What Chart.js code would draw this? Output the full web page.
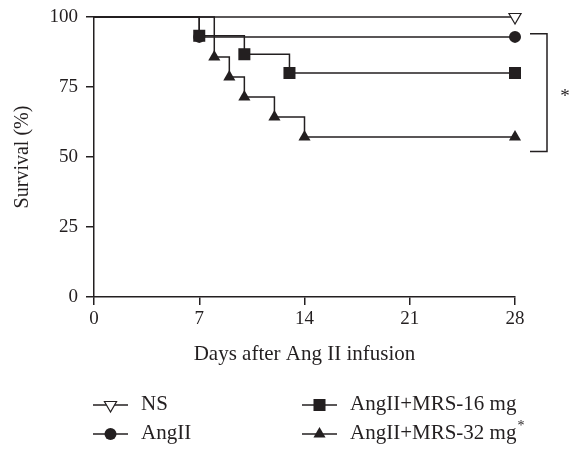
<!DOCTYPE html>
<html><head><meta charset="utf-8">
<script src="https://cdn.jsdelivr.net/npm/chart.js@4"></script>
<style>html,body{margin:0;padding:0;background:#fff}#wrap{width:581px;height:451px;position:relative}</style>
</head><body><div id="wrap"><canvas id="c" width="581" height="451"></canvas></div>
<script>
// ---- data ----
const seriesNames = ['NS', 'AngII', 'AngII+MRS-16 mg', 'AngII+MRS-32 mg'];
const nsDays = [0, 28];
const nsSurvival = [100, 100];
const angDays = [0, 7, 28];
const angSurvival = [100, 92.9, 92.9];
const mrs16Days = [0, 7, 10, 13, 28];
const mrs16Survival = [100, 93.3, 86.7, 80, 80];
const mrs32Days = [0, 8, 9, 10, 12, 14, 28];
const mrs32Survival = [100, 85.7, 78.6, 71.4, 64.3, 57.1, 57.1];
const xTicks = [0, 7, 14, 21, 28];
const yTicks = [0, 25, 50, 75, 100];
const bracketSpan = [94, 52];      // survival range spanned by the significance bracket
const bracketLabel = '*';

const INK = '#231f20';
const FONT = "'Liberation Serif', 'DejaVu Serif', serif";

function pts(xs, ys) { return xs.map((x, i) => ({ x: x, y: ys[i] })); }

const styles = [
  { pointStyle: 'triangle', rotation: 180, radius: 7, fill: '#ffffff', bw: 1.2 },
  { pointStyle: 'circle', rotation: 0, radius: 6, fill: INK, bw: 0 },
  { pointStyle: 'rect', rotation: 0, radius: 8.5, fill: INK, bw: 0 },
  { pointStyle: 'triangle', rotation: 0, radius: 7, fill: INK, bw: 0 }
];
const seriesData = [pts(nsDays, nsSurvival), pts(angDays, angSurvival), pts(mrs16Days, mrs16Survival), pts(mrs32Days, mrs32Survival)];

const datasets = seriesNames.map((name, i) => ({
  label: name,
  data: seriesData[i],
  stepped: true,
  borderColor: INK,
  borderWidth: 1.5,
  fill: false,
  clip: false,
  pointStyle: styles[i].pointStyle,
  pointRotation: styles[i].rotation,
  pointRadius: ctx => ctx.dataIndex === 0 ? 0 : styles[i].radius,
  pointHoverRadius: ctx => ctx.dataIndex === 0 ? 0 : styles[i].radius,
  pointBackgroundColor: styles[i].fill,
  pointBorderColor: INK,
  pointBorderWidth: styles[i].bw
}));

function drawShape(ctx, st, x, y) {
  ctx.save();
  ctx.fillStyle = st.fill;
  ctx.strokeStyle = INK;
  ctx.lineWidth = st.bw;
  Chart.helpers.drawPoint(ctx, { pointStyle: st.pointStyle, rotation: st.rotation, radius: st.radius, borderWidth: st.bw }, x, y);
  ctx.restore();
}

const extras = {
  id: 'extras',
  afterDraw(chart) {
    const ctx = chart.ctx;
    const ys = chart.scales.y;
    const area = chart.chartArea;
    // significance bracket
    const bx = area.right + 32;
    const y1 = ys.getPixelForValue(bracketSpan[0]);
    const y2 = ys.getPixelForValue(bracketSpan[1]);
    ctx.save();
    ctx.strokeStyle = INK;
    ctx.lineWidth = 1.5;
    ctx.beginPath();
    ctx.moveTo(bx - 17, y1); ctx.lineTo(bx, y1); ctx.lineTo(bx, y2); ctx.lineTo(bx - 17, y2);
    ctx.stroke();
    ctx.fillStyle = INK;
    ctx.font = '19px ' + FONT;
    ctx.textAlign = 'center';
    ctx.textBaseline = 'middle';
    ctx.fillText(bracketLabel, bx + 18, (y1 + y2) / 2 + 4);
    ctx.restore();

    // legend (two columns)
    const cols = [{ l: 93, r: 128, t: 141 }, { l: 302, r: 337, t: 350 }];
    const rows = [405, 434];
    seriesNames.forEach((name, i) => {
      const c = cols[i < 2 ? 0 : 1];
      const y = rows[i % 2];
      ctx.save();
      ctx.strokeStyle = INK;
      ctx.lineWidth = 1.5;
      ctx.beginPath(); ctx.moveTo(c.l, y); ctx.lineTo(c.r, y); ctx.stroke();
      ctx.restore();
      drawShape(ctx, styles[i], (c.l + c.r) / 2, y);
      ctx.save();
      ctx.fillStyle = INK;
      ctx.font = '21px ' + FONT;
      ctx.textAlign = 'left';
      ctx.textBaseline = 'middle';
      ctx.fillText(name, c.t, y - 1);
      if (i === 3) {
        const w = ctx.measureText(name).width;
        ctx.font = '14px ' + FONT;
        ctx.fillText('*', c.t + w + 1, y - 8);
      }
      ctx.restore();
    });
  }
};

const axisCommon = {
  type: 'linear',
  grid: { display: true, drawOnChartArea: false, drawTicks: true, tickLength: 8, color: INK, lineWidth: 1.5 },
  border: { display: true, color: INK, width: 1.5 },
};

new Chart(document.getElementById('c'), {
  type: 'line',
  data: { datasets: datasets },
  options: {
    responsive: false,
    animation: false,
    layout: { padding: { top: 17, right: 66, bottom: 84, left: 0 } },
    plugins: { legend: { display: false }, tooltip: { enabled: false } },
    scales: {
      x: Object.assign({}, axisCommon, {
        min: 0, max: 28,
        afterBuildTicks: s => { s.ticks = xTicks.map(v => ({ value: v })); },
        afterFit: s => { s.height = 70; s.paddingLeft = 0; s.paddingRight = 0; },
        ticks: { color: INK, font: { family: FONT, size: 19 }, padding: 3, maxRotation: 0, autoSkip: false },
        title: { display: true, text: 'Days after Ang II infusion', color: INK, font: { family: FONT, size: 21 }, padding: { top: 0, bottom: 0 } }
      }),
      y: Object.assign({}, axisCommon, {
        min: 0, max: 100,
        afterBuildTicks: s => { s.ticks = yTicks.map(v => ({ value: v })); },
        afterFit: s => { s.width = 94; s.paddingTop = 0; s.paddingBottom = 0; },
        ticks: { color: INK, font: { family: FONT, size: 19 }, padding: 8, autoSkip: false },
        title: { display: true, text: 'Survival (%)', color: INK, font: { family: FONT, size: 20 }, padding: { top: 11, bottom: 0 } }
      })
    }
  },
  plugins: [extras]
});
</script>
</body></html>
